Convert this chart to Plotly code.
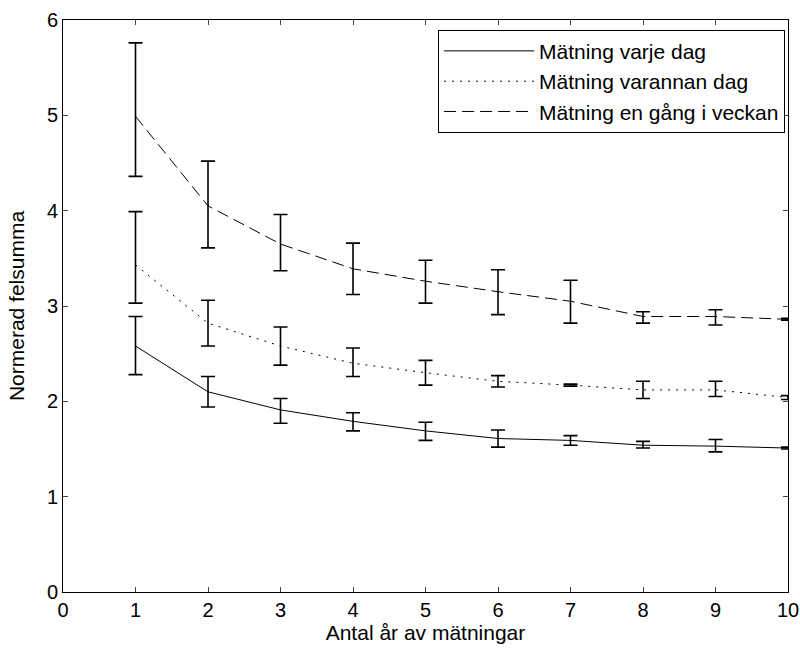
import plotly.graph_objects as go

years = [1, 2, 3, 4, 5, 6, 7, 8, 9, 10]

daily = [2.58, 2.10, 1.91, 1.79, 1.69, 1.61, 1.59, 1.54, 1.53, 1.51]
daily_up = [0.31, 0.16, 0.12, 0.09, 0.09, 0.09, 0.05, 0.04, 0.07, 0.01]
daily_down = [0.30, 0.16, 0.14, 0.10, 0.10, 0.09, 0.05, 0.03, 0.06, 0.01]

alt = [3.43, 2.82, 2.58, 2.40, 2.30, 2.21, 2.17, 2.12, 2.12, 2.04]
alt_up = [0.56, 0.24, 0.20, 0.16, 0.13, 0.06, 0.01, 0.09, 0.09, 0.02]
alt_down = [0.40, 0.24, 0.20, 0.14, 0.13, 0.06, 0.01, 0.09, 0.07, 0.02]

weekly = [4.99, 4.05, 3.65, 3.39, 3.26, 3.15, 3.05, 2.89, 2.89, 2.86]
weekly_up = [0.77, 0.47, 0.31, 0.27, 0.22, 0.23, 0.22, 0.05, 0.07, 0.01]
weekly_down = [0.63, 0.44, 0.28, 0.27, 0.23, 0.24, 0.23, 0.07, 0.09, 0.01]

names = ["Mätning varje dag", "Mätning varannan dag", "Mätning en gång i veckan"]
x_ticks = [0, 1, 2, 3, 4, 5, 6, 7, 8, 9, 10]
y_ticks = [0, 1, 2, 3, 4, 5, 6]

FONT = "Liberation Sans, Arial, sans-serif"

fig = go.Figure()
series = [
    (daily, daily_up, daily_down, "solid", names[0]),
    (alt, alt_up, alt_down, "2px,6px", names[1]),
    (weekly, weekly_up, weekly_down, "12px,6px", names[2]),
]
for vals, up, down, dash, name in series:
    fig.add_trace(go.Scatter(
        x=years, y=vals, mode="lines", name=name,
        line=dict(color="black", width=1, dash=dash),
        error_y=dict(type="data", symmetric=False, array=up, arrayminus=down,
                     color="black", thickness=1.6, width=7),
    ))

fig.update_layout(
    width=800, height=648,
    margin=dict(l=63, r=12, t=20, b=56, autoexpand=False),
    paper_bgcolor="white", plot_bgcolor="white",
    font=dict(family=FONT, size=20, color="black"),
    showlegend=True,
    legend=dict(x=0.996, y=0.983, xanchor="right", yanchor="top",
                bordercolor="black", borderwidth=1, bgcolor="white",
                itemwidth=90, font=dict(family=FONT, size=21)),
    xaxis=dict(range=[0, 10], tickvals=x_ticks, ticks="inside", ticklen=5,
               showline=True, mirror="ticks", linecolor="black", linewidth=1,
               showgrid=False, zeroline=False, automargin=False,
               ticklabeloverflow="allow",
               tickfont=dict(family=FONT, size=20),
               title=dict(text="Antal år av mätningar", standoff=2,
                          font=dict(family=FONT, size=21))),
    yaxis=dict(range=[0, 6], tickvals=y_ticks, ticks="inside", ticklen=5,
               showline=True, mirror="ticks", linecolor="black", linewidth=1,
               showgrid=False, zeroline=False, automargin=False,
               tickfont=dict(family=FONT, size=20),
               title=dict(text="Normerad felsumma", standoff=16,
                          font=dict(family=FONT, size=21))),
)

fig.write_html("out.html", config={"displayModeBar": False},
               post_script="document.body.style.margin='0px';document.body.style.overflow='hidden';")
